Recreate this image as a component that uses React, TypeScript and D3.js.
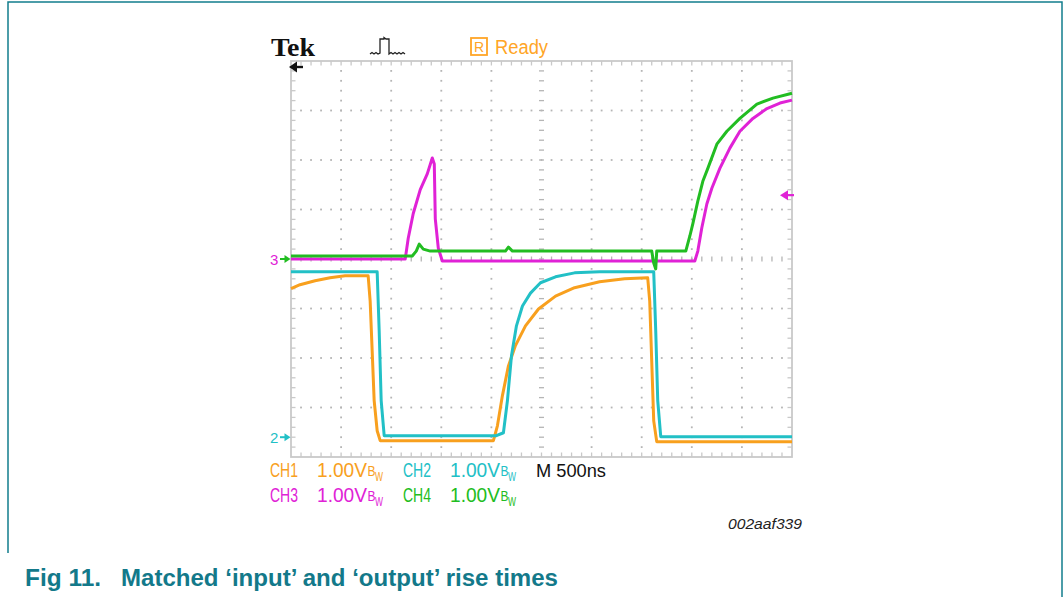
import React, { useEffect, useRef } from 'react'
import * as d3 from 'd3'

// time in µs (M 500ns/div), level in divisions (1.00 V/div) measured from screen centre
const ch1Trace: [number, number][] = [
  [0, -0.6], [0.09, -0.52], [0.24, -0.44], [0.39, -0.38], [0.54, -0.34], [0.77, -0.34],
  [0.79, -0.85], [0.81, -1.85], [0.83, -2.86], [0.86, -3.47], [0.89, -3.67], [2.02, -3.67],
  [2.06, -3.37], [2.11, -2.76], [2.17, -2.16], [2.24, -1.75], [2.34, -1.35], [2.47, -1.01],
  [2.64, -0.75], [2.83, -0.58], [3.08, -0.46], [3.33, -0.4], [3.56, -0.38], [3.58, -0.85],
  [3.6, -2.06], [3.62, -3.27], [3.65, -3.69], [5, -3.69],
]
const ch2Trace: [number, number][] = [
  [0, -0.26], [0.86, -0.26], [0.88, -1.45], [0.9, -2.86], [0.93, -3.57], [2.05, -3.57],
  [2.12, -3.51], [2.16, -2.86], [2.2, -1.96], [2.25, -1.35], [2.31, -0.95], [2.39, -0.69],
  [2.49, -0.48], [2.64, -0.36], [2.83, -0.28], [3.08, -0.26], [3.62, -0.26], [3.64, -1.45],
  [3.66, -2.86], [3.69, -3.59], [5, -3.59],
]
const ch3Trace: [number, number][] = [
  [0, 0], [1.14, 0], [1.17, 0.42], [1.22, 0.92], [1.29, 1.4], [1.36, 1.72], [1.41, 2.04],
  [1.43, 1.92], [1.44, 0.81], [1.47, 0.22], [1.51, -0.04], [4.03, -0.04], [4.06, 0.16],
  [4.1, 0.63], [4.15, 1.11], [4.2, 1.43], [4.28, 1.83], [4.38, 2.24], [4.48, 2.58],
  [4.61, 2.84], [4.75, 3.04], [4.88, 3.15], [5, 3.21],
]
const ch4Trace: [number, number][] = [
  [0, 0.06], [1.21, 0.06], [1.25, 0.16], [1.28, 0.3], [1.32, 0.2], [1.39, 0.16], [2.14, 0.16],
  [2.17, 0.24], [2.21, 0.16], [3.6, 0.16], [3.62, -0.08], [3.64, -0.2], [3.65, 0.16],
  [3.94, 0.16], [3.98, 0.46], [4.01, 0.71], [4.06, 1.17], [4.11, 1.57], [4.16, 1.83],
  [4.25, 2.32], [4.35, 2.58], [4.48, 2.84], [4.65, 3.13], [4.81, 3.25], [5, 3.35],
]

const channelNames = ['CH1', 'CH2', 'CH3', 'CH4']
const channelScales = ['1.00V', '1.00V', '1.00V', '1.00V']
const channelColors = ['#f8a01e', '#22c0c6', '#e022d6', '#22bd22']
const timebaseLabel = 'M 500ns'
const groundMarkers = [{ label: '3', level: 0, ch: 2 }, { label: '2', level: -3.6, ch: 1 }]
const triggerLevel = 1.29
const figureId = '002aaf339'
const captionNum = 'Fig 11.'
const captionText = 'Matched ‘input’ and ‘output’ rise times'

const App = () => {
  const ref = useRef<SVGSVGElement>(null)

  useEffect(() => {
    const svg = d3.select(ref.current)
    svg.selectAll('*').remove()

    const x = d3.scaleLinear().domain([0, 5]).range([291, 792])
    const y = d3.scaleLinear().domain([-4, 4]).range([457, 61])
    const sans = 'Liberation Sans, Arial, sans-serif'

    // outer frame of the figure
    svg.append('path')
      .attr('d', 'M8,553 L8,2 L1062,2 L1062,597')
      .attr('fill', 'none').attr('stroke', '#127e8d').attr('stroke-width', 1.5)

    // graticule
    const g = svg.append('g')
    const minorT = d3.range(0, 5.0001, 0.1)
    const minorV = d3.range(-4, 4.0001, 0.2)
    const grey = '#b5b5b5'

    d3.range(0.5, 5, 0.5).forEach(t => {
      if (Math.abs(t - 2.5) < 1e-6) return
      minorV.slice(1, -1).forEach(v => {
        g.append('rect').attr('x', x(t) - 0.9).attr('y', y(v) - 0.9)
          .attr('width', 1.8).attr('height', 1.8).attr('fill', grey)
      })
    })
    d3.range(-3, 4, 1).forEach(v => {
      if (v === 0) return
      minorT.slice(1, -1).forEach(t => {
        g.append('rect').attr('x', x(t) - 0.9).attr('y', y(v) - 0.9)
          .attr('width', 1.8).attr('height', 1.8).attr('fill', grey)
      })
    })
    // centre cross ticks
    minorV.slice(1, -1).forEach(v => {
      g.append('line').attr('x1', x(2.5) - 2.5).attr('x2', x(2.5) + 2.5)
        .attr('y1', y(v)).attr('y2', y(v)).attr('stroke', grey).attr('stroke-width', 1.3)
    })
    minorT.slice(1, -1).forEach(t => {
      g.append('line').attr('x1', x(t)).attr('x2', x(t))
        .attr('y1', y(0) - 2.5).attr('y2', y(0) + 2.5).attr('stroke', grey).attr('stroke-width', 1.3)
    })
    // border with ruler ticks
    g.append('rect').attr('x', x(0)).attr('y', y(4))
      .attr('width', x(5) - x(0)).attr('height', y(-4) - y(4))
      .attr('fill', 'none').attr('stroke', '#c9c9c9').attr('stroke-width', 1.8)
    minorT.slice(1, -1).forEach(t => {
      g.append('line').attr('x1', x(t)).attr('x2', x(t)).attr('y1', y(4)).attr('y2', y(4) + 4.5)
        .attr('stroke', '#c9c9c9').attr('stroke-width', 1.3)
      g.append('line').attr('x1', x(t)).attr('x2', x(t)).attr('y1', y(-4)).attr('y2', y(-4) - 4.5)
        .attr('stroke', '#c9c9c9').attr('stroke-width', 1.3)
    })
    minorV.slice(1, -1).forEach(v => {
      g.append('line').attr('x1', x(0)).attr('x2', x(0) + 4.5).attr('y1', y(v)).attr('y2', y(v))
        .attr('stroke', '#c9c9c9').attr('stroke-width', 1.3)
      g.append('line').attr('x1', x(5)).attr('x2', x(5) - 4.5).attr('y1', y(v)).attr('y2', y(v))
        .attr('stroke', '#c9c9c9').attr('stroke-width', 1.3)
    })

    // traces
    const line = d3.line<[number, number]>().x(d => x(d[0])).y(d => y(d[1]))
    const traces = [ch1Trace, ch2Trace, ch3Trace, ch4Trace]
    traces.forEach((tr, i) => {
      svg.append('path').attr('d', line(tr)!)
        .attr('fill', 'none').attr('stroke', channelColors[i])
        .attr('stroke-width', 3).attr('stroke-linejoin', 'round')
    })

    // ground markers on the left
    groundMarkers.forEach(m => {
      const yy = y(m.level)
      const c = channelColors[m.ch]
      svg.append('text').attr('x', 270).attr('y', yy + 5.5).text(m.label)
        .attr('fill', c).attr('font-family', sans).attr('font-size', 15)
      const ac = m.ch === 2 ? channelColors[3] : c
      svg.append('line').attr('x1', 280).attr('x2', 287).attr('y1', yy).attr('y2', yy)
        .attr('stroke', ac).attr('stroke-width', 2)
      svg.append('path').attr('d', `M284.5,${yy - 4} L290.5,${yy} L284.5,${yy + 4} Z`).attr('fill', ac)
    })
    // trigger position arrow (top-left)
    svg.append('path').attr('d', 'M289,67 L297,61.5 L297,72.5 Z').attr('fill', '#111')
    svg.append('line').attr('x1', 295).attr('x2', 303).attr('y1', 67).attr('y2', 67)
      .attr('stroke', '#111').attr('stroke-width', 2.4)
    // trigger level arrow (right)
    const ty = y(triggerLevel)
    svg.append('path').attr('d', `M780,${ty} L788,${ty - 5} L788,${ty + 5} Z`).attr('fill', channelColors[2])
    svg.append('line').attr('x1', 786).attr('x2', 794).attr('y1', ty).attr('y2', ty)
      .attr('stroke', channelColors[2]).attr('stroke-width', 2.2)

    // header
    svg.append('text').attr('x', 271).attr('y', 56).text('Tek')
      .attr('font-family', 'Liberation Serif, serif').attr('font-weight', 'bold')
      .attr('font-size', 26).attr('textLength', 44).attr('lengthAdjust', 'spacingAndGlyphs')
      .attr('fill', '#111')
    svg.append('path')
      .attr('d', 'M370,54 L372,52.5 L374,54 L376,52.5 L378,54 L380,53 L380,39 L384,39 L384,37.5 L386,39 L389,39 L389,54 L391,52.5 L393,54 L395,52.5 L397,54 L399,52.5 L401,54 L403,52.5 L405,54')
      .attr('fill', 'none').attr('stroke', '#222').attr('stroke-width', 1.3)
    const orange = '#ffa526'
    svg.append('rect').attr('x', 471).attr('y', 38).attr('width', 16).attr('height', 17)
      .attr('fill', 'none').attr('stroke', orange).attr('stroke-width', 1.8)
    svg.append('text').attr('x', 479).attr('y', 51.5).text('R').attr('text-anchor', 'middle')
      .attr('font-family', sans).attr('font-size', 14).attr('fill', orange)
    svg.append('text').attr('x', 495).attr('y', 53.5).text('Ready')
      .attr('font-family', sans).attr('font-size', 20).attr('fill', orange)
      .attr('textLength', 53).attr('lengthAdjust', 'spacingAndGlyphs')

    // channel settings
    const colX = [[270, 317], [403, 450]]
    const rowY = [477, 502]
    channelNames.forEach((name, i) => {
      const row = Math.floor(i / 2)
      const col = i % 2
      const c = channelColors[i]
      const [nx, vx] = colX[col]
      svg.append('text').attr('x', nx).attr('y', rowY[row]).text(name)
        .attr('font-family', sans).attr('font-size', 19.5).attr('fill', c)
        .attr('textLength', 28).attr('lengthAdjust', 'spacingAndGlyphs')
      svg.append('text').attr('x', vx).attr('y', rowY[row]).text(channelScales[i])
        .attr('font-family', sans).attr('font-size', 19.5).attr('fill', c)
        .attr('textLength', 50).attr('lengthAdjust', 'spacingAndGlyphs')
      svg.append('text').attr('x', vx + 50.5).attr('y', rowY[row] - 1).text('B')
        .attr('font-family', sans).attr('font-size', 14).attr('fill', c)
        .attr('textLength', 8).attr('lengthAdjust', 'spacingAndGlyphs')
      svg.append('text').attr('x', vx + 58).attr('y', rowY[row] + 4).text('W')
        .attr('font-family', sans).attr('font-size', 12).attr('fill', c)
        .attr('textLength', 8).attr('lengthAdjust', 'spacingAndGlyphs')
    })
    svg.append('text').attr('x', 536).attr('y', 477).text(timebaseLabel)
      .attr('font-family', sans).attr('font-size', 19).attr('fill', '#111')
      .attr('textLength', 70).attr('lengthAdjust', 'spacingAndGlyphs')

    svg.append('text').attr('x', 728).attr('y', 529).text(figureId)
      .attr('font-family', sans).attr('font-style', 'italic').attr('font-size', 15)
      .attr('fill', '#222').attr('textLength', 74).attr('lengthAdjust', 'spacingAndGlyphs')

    const teal = '#13798a'
    svg.append('text').attr('x', 25).attr('y', 586).text(captionNum)
      .attr('font-family', sans).attr('font-weight', 'bold').attr('font-size', 23)
      .attr('fill', teal).attr('textLength', 76).attr('lengthAdjust', 'spacingAndGlyphs')
    svg.append('text').attr('x', 121).attr('y', 586).text(captionText)
      .attr('font-family', sans).attr('font-weight', 'bold').attr('font-size', 23)
      .attr('fill', teal).attr('textLength', 437).attr('lengthAdjust', 'spacingAndGlyphs')
  }, [])

  return (
    <svg ref={ref} width={1064} height={597}
      style={{ position: 'absolute', left: 0, top: 0, background: '#fff' }} />
  )
}

export default App
